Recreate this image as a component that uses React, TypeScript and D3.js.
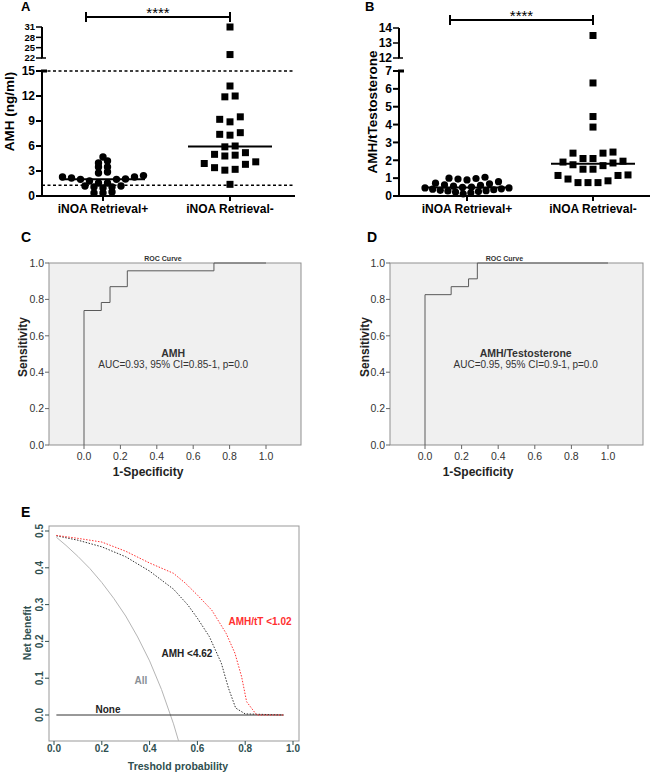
import React from 'react';
import * as d3 from 'd3';

const W = 660;
const H = 773;
const FONT = "Arial, 'Liberation Sans', Helvetica, sans-serif";

// ---------- Panels A & B data ----------
const groupLabels = ['iNOA Retrieval+', 'iNOA Retrieval-'];
const sigText = '****';

const amhRetrievalPos = [4.68, 4.2, 3.96, 3.48, 3.48, 2.88, 2.76, 2.45, 2.28, 2.28, 2.16, 2.04, 2.0, 2.0, 1.8, 1.56, 1.56, 1.2, 1.2, 1.08, 1.08, 0.96, 0.48, 0.36, 0.36];
const amhRetrievalNeg = [31, 23, 13.2, 12.0, 11.9, 9.5, 9.2, 8.9, 7.6, 7.4, 7.3, 6.0, 5.9, 5.2, 5.0, 4.9, 4.8, 4.1, 3.9, 3.8, 3.4, 3.2, 3.1, 1.4];
const amhTicksLow = [0, 3, 6, 9, 12, 15];
const amhTicksHigh = [22, 25, 28, 31];
const amhDashed = [15, 1.3];

const ratioRetrievalPos = [1.05, 1.0, 0.98, 0.95, 0.9, 0.8, 0.72, 0.68, 0.62, 0.6, 0.55, 0.5, 0.48, 0.45, 0.45, 0.4, 0.38, 0.35, 0.32, 0.3, 0.28, 0.25, 0.22, 0.18, 0.12];
const ratioRetrievalNeg = [13.5, 6.33, 4.45, 3.86, 2.46, 2.4, 2.4, 2.1, 2.1, 1.95, 1.9, 1.85, 1.75, 1.7, 1.5, 1.5, 1.18, 1.15, 1.15, 0.95, 0.85, 0.75, 0.75, 0.75];
const ratioTicksLow = [0, 1, 2, 3, 4, 5, 6, 7];
const ratioTicksHigh = [12, 13, 14];

// ---------- Panels C & D data ----------
const rocTicks = [0, 0.2, 0.4, 0.6, 0.8, 1.0];
const rocAmhFpr = [0, 0, 0.095, 0.143, 0.238, 0.714, 1];
const rocAmhTpr = [0, 0.739, 0.783, 0.87, 0.957, 1, 1];
const rocRatioFpr = [0, 0, 0.143, 0.238, 0.286, 1];
const rocRatioTpr = [0, 0.826, 0.87, 0.913, 1, 1];

// ---------- Panel E data ----------
const dcaTicksX = [0, 0.2, 0.4, 0.6, 0.8, 1.0];
const dcaTicksY = [0, 0.1, 0.2, 0.3, 0.4, 0.5];
const dcaNoneX = [0.01, 0.96];
const dcaNoneY = [0, 0];
const dcaAllX = [0.01, 0.05, 0.1, 0.15, 0.2, 0.25, 0.3, 0.35, 0.4, 0.45, 0.5, 0.53];
const dcaAllY = [0.483, 0.461, 0.431, 0.398, 0.36, 0.317, 0.269, 0.212, 0.147, 0.069, -0.024, -0.09];
const dcaAmhX = [0.01, 0.1, 0.2, 0.3, 0.4, 0.5, 0.56, 0.6, 0.65, 0.7, 0.73, 0.76, 0.8, 0.96];
const dcaAmhY = [0.487, 0.475, 0.457, 0.43, 0.391, 0.342, 0.299, 0.263, 0.213, 0.141, 0.073, 0.019, 0.003, 0];
const dcaRatioX = [0.01, 0.1, 0.2, 0.3, 0.4, 0.5, 0.55, 0.6, 0.66, 0.72, 0.757, 0.785, 0.806, 0.848, 0.96];
const dcaRatioY = [0.488, 0.48, 0.47, 0.445, 0.413, 0.385, 0.358, 0.326, 0.285, 0.222, 0.168, 0.104, 0.036, 0, 0];

type Layout = { spacing: number; gap: number; span: number; maxWidth: number };
type Pt = { v: number; py: number };

function swarm(values: number[], y: (v: number) => number, cx: number, L: Layout) {
  const pts: Pt[] = values.map((v) => ({ v, py: y(v) })).sort((a, b) => a.v - b.v);
  const rows: Pt[][] = [];
  let cur: Pt[] = [];
  for (const p of pts) {
    if (cur.length && (cur[cur.length - 1].py - p.py > L.gap || cur[0].py - p.py > L.span)) {
      rows.push(cur);
      cur = [];
    }
    cur.push(p);
  }
  if (cur.length) rows.push(cur);
  const out: { x: number; y: number }[] = [];
  rows.forEach((r) => {
    const n = r.length;
    const sp = n > 1 ? Math.min(L.spacing, L.maxWidth / (n - 1)) : 0;
    const mid = (n - 1) / 2;
    const slots = d3.range(n).sort((a, b) => Math.abs(a - mid) - Math.abs(b - mid) || a - b);
    r.forEach((p, i) => out.push({ x: cx + (slots[i] - mid) * sp, y: p.py }));
  });
  return out;
}

function DotPanel(props: any) {
  const {
    letter, letterX, axisX, axisEnd, centers, lowDom, lowRange, highDom, highRange,
    ticksLow, ticksHigh, pos, neg, dashed, title, titleX, bracketY, layoutPos, layoutNeg, r, s, highFont,
  } = props;
  const low = d3.scaleLinear().domain(lowDom).range(lowRange);
  const high = d3.scaleLinear().domain(highDom).range(highRange);
  const y = (v: number) => (v <= lowDom[1] ? low(v) : high(v));
  const x = d3.scalePoint<string>().domain(groupLabels).range(centers);
  const c1 = x(groupLabels[0]) as number;
  const c2 = x(groupLabels[1]) as number;
  const base = low(lowDom[0]);
  const p1 = swarm(pos, y, c1, layoutPos);
  const p2 = swarm(neg, y, c2, layoutNeg);
  const m1 = d3.median(pos) as number;
  const m2 = d3.median(neg) as number;
  const bl = c1 - 17;
  const titleY = (highRange[1] + lowRange[0]) / 2;
  return (
    <g fontFamily={FONT}>
      <text x={letterX} y={11} fontSize={13} fontWeight="bold">{letter}</text>
      <path
        d={`M${bl},${bracketY - 5}V${bracketY + 5}M${bl},${bracketY}H${c2}M${c2},${bracketY - 5}V${bracketY + 5}`}
        stroke="#000" strokeWidth={2} fill="none"
      />
      <text x={(bl + c2) / 2} y={bracketY + 0.5} fontSize={15} textAnchor="middle">{sigText}</text>
      {(dashed || []).map((d: number) => (
        <line key={'d' + d} x1={axisX} x2={axisEnd} y1={y(d)} y2={y(d)} stroke="#000" strokeWidth={1.5} strokeDasharray="3,2.5" />
      ))}
      <line x1={axisX} x2={axisX} y1={low(lowDom[0])} y2={low(lowDom[1])} stroke="#000" strokeWidth={2} />
      <line x1={axisX} x2={axisX} y1={high(highDom[0])} y2={high(highDom[1])} stroke="#000" strokeWidth={2} />
      <line x1={axisX - 1} x2={axisX + 5} y1={low(lowDom[1])} y2={low(lowDom[1])} stroke="#000" strokeWidth={3} />
      <line x1={axisX - 1} x2={axisX + 4} y1={high(highDom[0])} y2={high(highDom[0])} stroke="#000" strokeWidth={1.5} />
      {ticksLow.map((t: number) => (
        <g key={'tl' + t}>
          <line x1={axisX - 6} x2={axisX} y1={low(t)} y2={low(t)} stroke="#000" strokeWidth={2} />
          <text x={axisX - 7} y={low(t)} dy="0.36em" fontSize={12} fontWeight="bold" textAnchor="end">{t}</text>
        </g>
      ))}
      {ticksHigh.map((t: number) => (
        <g key={'th' + t}>
          <line x1={axisX - 6} x2={axisX} y1={high(t)} y2={high(t)} stroke="#000" strokeWidth={1.5} />
          <text x={axisX - 7} y={high(t)} dy="0.36em" fontSize={highFont} fontWeight="bold" textAnchor="end">{t}</text>
        </g>
      ))}
      <line x1={axisX - 1} x2={axisEnd} y1={base} y2={base} stroke="#000" strokeWidth={2} />
      {[c1, c2].map((c, i) => (
        <g key={'c' + i}>
          <line x1={c} x2={c} y1={base} y2={base + 5} stroke="#000" strokeWidth={2} />
          <text x={c} y={213} fontSize={12} fontWeight="bold" textAnchor="middle">{groupLabels[i]}</text>
        </g>
      ))}
      <text transform={`translate(${titleX},${titleY}) rotate(-90)`} fontSize={13.5} fontWeight="bold" textAnchor="middle">{title}</text>
      {p1.map((p, i) => <circle key={'a' + i} cx={p.x} cy={p.y} r={r} fill="#000" />)}
      {p2.map((p, i) => <rect key={'b' + i} x={p.x - s / 2} y={p.y - s / 2} width={s} height={s} fill="#000" />)}
      <line x1={c1 - 42} x2={c1 + 42} y1={y(m1)} y2={y(m1)} stroke="#000" strokeWidth={2} />
      <line x1={c2 - 42} x2={c2 + 42} y1={y(m2)} y2={y(m2)} stroke="#000" strokeWidth={2} />
    </g>
  );
}

function RocPanel(props: any) {
  const { letter, letterX, xRange, rectX, fpr, tpr, name, auc, annAt, sensX, specX } = props;
  const x = d3.scaleLinear().domain([0, 1]).range(xRange);
  const y = d3.scaleLinear().domain([0, 1]).range([445, 263]);
  const line = d3
    .line<number>()
    .x((_, i) => x(fpr[i]))
    .y((d) => y(d))
    .curve(d3.curveStepAfter);
  const top = y(1);
  const bot = y(0);
  return (
    <g fontFamily={FONT}>
      <text x={letterX} y={242} fontSize={14} fontWeight="bold">{letter}</text>
      <rect x={rectX[0]} y={top} width={rectX[1] - rectX[0]} height={bot - top} fill="#f0f0f0" stroke="#8f8f8f" strokeWidth={1} />
      {rocTicks.map((t) => (
        <g key={'y' + t}>
          <line x1={rectX[0] - 4} x2={rectX[0]} y1={y(t)} y2={y(t)} stroke="#666" />
          <text x={rectX[0] - 5} y={y(t)} dy="0.36em" fontSize={10.5} textAnchor="end" fill="#333">{t.toFixed(1)}</text>
        </g>
      ))}
      {rocTicks.map((t) => (
        <g key={'x' + t}>
          <line x1={x(t)} x2={x(t)} y1={bot} y2={bot + 4} stroke="#666" />
          <text x={x(t)} y={bot + 15} fontSize={10.5} textAnchor="middle" fill="#333">{t.toFixed(1)}</text>
        </g>
      ))}
      <path d={line(tpr) as string} fill="none" stroke="#5a5a5a" strokeWidth={1} />
      <text x={x(0.434)} y={261} fontSize={7} fontWeight="bold" textAnchor="middle" fill="#333">ROC Curve</text>
      <text x={x(annAt)} y={357} fontSize={10.5} fontWeight="bold" textAnchor="middle" fill="#333">{name}</text>
      <text x={x(annAt)} y={368} fontSize={10} textAnchor="middle" fill="#333">{auc}</text>
      <text transform={`translate(${sensX},347) rotate(-90)`} fontSize={12} fontWeight="bold" textAnchor="middle" fill="#222">Sensitivity</text>
      <text x={specX} y={bot + 31} fontSize={12} fontWeight="bold" textAnchor="middle" fill="#222">1-Specificity</text>
    </g>
  );
}

function DcaPanel() {
  const x = d3.scaleLinear().domain([0, 1]).range([54, 293]);
  const y = d3.scaleLinear().domain([0, 0.5]).range([715, 531]);
  const box = { x0: 49, x1: 299, y0: 526, y1: 741 };
  const mk = (xs: number[], ys: number[]) =>
    d3.line<number>().x((_, i) => x(xs[i])).y((d) => y(d))(ys) as string;
  const col = '#2f4f4f';
  return (
    <g fontFamily={FONT}>
      <defs>
        <clipPath id="dcaClip">
          <rect x={box.x0} y={box.y0} width={box.x1 - box.x0} height={box.y1 - box.y0} />
        </clipPath>
      </defs>
      <text x={21} y={517} fontSize={14} fontWeight="bold">E</text>
      <rect x={box.x0} y={box.y0} width={box.x1 - box.x0} height={box.y1 - box.y0} fill="none" stroke="#999" strokeWidth={1} />
      {dcaTicksY.map((t) => (
        <g key={'y' + t}>
          <line x1={box.x0 - 4} x2={box.x0} y1={y(t)} y2={y(t)} stroke={col} />
          <text transform={`translate(43,${y(t)}) rotate(-90)`} fontSize={10} fontWeight="bold" textAnchor="middle" fill={col}>{t.toFixed(1)}</text>
        </g>
      ))}
      {dcaTicksX.map((t) => (
        <g key={'x' + t}>
          <line x1={x(t)} x2={x(t)} y1={box.y1} y2={box.y1 + 4} stroke={col} />
          <text x={x(t)} y={752} fontSize={10} fontWeight="bold" textAnchor="middle" fill={col}>{t.toFixed(1)}</text>
        </g>
      ))}
      <text x={178} y={770} fontSize={10.5} fontWeight="bold" textAnchor="middle" fill={col}>Treshold probability</text>
      <text transform={`translate(31,633) rotate(-90)`} fontSize={10.5} fontWeight="bold" textAnchor="middle" fill={col}>Net benefit</text>
      <g clipPath="url(#dcaClip)">
        <path d={mk(dcaAllX, dcaAllY)} fill="none" stroke="#b5b5b5" strokeWidth={1} />
        <path d={mk(dcaNoneX, dcaNoneY)} fill="none" stroke="#333" strokeWidth={1} />
        <path d={mk(dcaAmhX, dcaAmhY)} fill="none" stroke="#333" strokeWidth={1} strokeDasharray="1.5,1.5" />
        <path d={mk(dcaRatioX, dcaRatioY)} fill="none" stroke="#ff3030" strokeWidth={1} strokeDasharray="1.5,1.5" />
      </g>
      <text x={260} y={624.5} fontSize={10} fontWeight="bold" textAnchor="middle" fill="#ff3030">AMH/tT &lt;1.02</text>
      <text x={187} y={657} fontSize={10} fontWeight="bold" textAnchor="middle" fill="#222">AMH &lt;4.62</text>
      <text x={141} y={684} fontSize={10} fontWeight="bold" textAnchor="middle" fill="#8a8f96">All</text>
      <text x={108} y={713} fontSize={10} fontWeight="bold" textAnchor="middle" fill="#222">None</text>
    </g>
  );
}

export default function App() {
  return (
    <svg width={W} height={H} viewBox={`0 0 ${W} ${H}`} style={{ position: 'absolute', left: 0, top: 0, background: '#fff' }}>
      <rect x={0} y={0} width={W} height={H} fill="#fff" />
      <DotPanel
        letter="A" letterX={21} axisX={42} axisEnd={295} centers={[103, 230]}
        lowDom={[0, 15]} lowRange={[196, 71]} highDom={[22, 31]} highRange={[58, 27]}
        ticksLow={amhTicksLow} ticksHigh={amhTicksHigh} highFont={9.5}
        pos={amhRetrievalPos} neg={amhRetrievalNeg} dashed={amhDashed}
        title="AMH (ng/ml)" titleX={14} bracketY={17}
        layoutPos={{ spacing: 9, gap: 2.5, span: 8, maxWidth: 90 }}
        layoutNeg={{ spacing: 10.3, gap: 6, span: 8.5, maxWidth: 90 }}
        r={3.7} s={7}
      />
      <DotPanel
        letter="B" letterX={365} axisX={399} axisEnd={650} centers={[467, 593]}
        lowDom={[0, 7]} lowRange={[196, 71]} highDom={[12, 14]} highRange={[58, 28]}
        ticksLow={ratioTicksLow} ticksHigh={ratioTicksHigh} highFont={12}
        pos={ratioRetrievalPos} neg={ratioRetrievalNeg} dashed={[]}
        title="AMH/tTestosterone" titleX={377} bracketY={20}
        layoutPos={{ spacing: 9, gap: 2.5, span: 6, maxWidth: 84 }}
        layoutNeg={{ spacing: 10, gap: 6, span: 8.5, maxWidth: 90 }}
        r={3.6} s={7}
      />
      <RocPanel
        letter="C" letterX={21} xRange={[84, 266]} rectX={[49, 301]}
        fpr={rocAmhFpr} tpr={rocAmhTpr} name="AMH" auc="AUC=0.93, 95% CI=0.85-1, p=0.0"
        annAt={0.49} sensX={27} specX={148}
      />
      <RocPanel
        letter="D" letterX={367} xRange={[425, 608]} rectX={[390, 643]}
        fpr={rocRatioFpr} tpr={rocRatioTpr} name="AMH/Testosterone" auc="AUC=0.95, 95% CI=0.9-1, p=0.0"
        annAt={0.55} sensX={369} specX={478}
      />
      <DcaPanel />
    </svg>
  );
}
